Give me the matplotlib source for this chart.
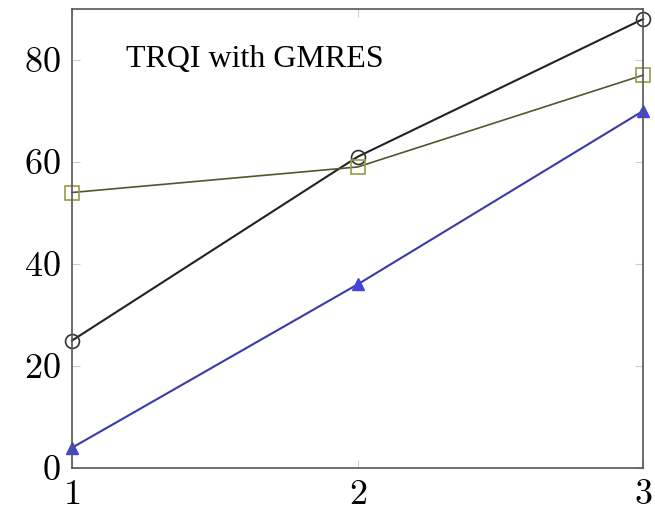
import matplotlib.pyplot as plt

# data
x = [1, 2, 3]
circles = [25, 61, 88]
squares = [54, 59, 77]
triangles = [4, 36, 70]
xticks = [1, 2, 3]
yticks = [0, 20, 40, 60, 80]

plt.rcParams['font.family'] = 'cmr10'
plt.rcParams['axes.formatter.use_mathtext'] = True

fig = plt.figure(figsize=(6.55, 5.15), dpi=100)
ax = fig.add_axes([0.110, 0.091, 0.872, 0.892])

ax.plot(x, circles, color='#222222', lw=1.5, marker='o', ms=10,
        mfc='none', mec='#333333', mew=1.2, clip_on=False)
ax.plot(x, squares, color='#55552a', lw=1.2, marker='s', ms=10,
        mfc='none', mec='#9a9a4a', mew=1.2, clip_on=False)
ax.plot(x, triangles, color='#3a3aa8', lw=1.5, marker='^', ms=8,
        mfc='#4444dd', mec='#4444dd', clip_on=False)

ax.text(0.32, 0.89, 'TRQI with GMRES', transform=ax.transAxes,
        ha='center', va='center', fontsize=23, family='Liberation Serif')

ax.set_xlim(1, 3)
ax.set_ylim(0, 90)
ax.set_xticks(xticks)
ax.set_yticks(yticks)
ax.tick_params(direction='in', length=6, color='#cccccc', labelsize=26,
               top=True, right=True, pad=8)
for s in ax.spines.values():
    s.set_color('#555555')
    s.set_linewidth(1.2)

fig.savefig('out.png', dpi=100)
